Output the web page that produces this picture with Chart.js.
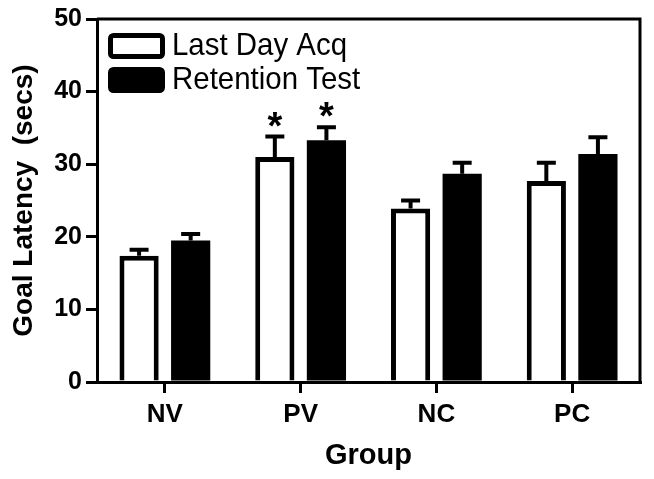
<!DOCTYPE html>
<html>
<head>
<meta charset="utf-8">
<script src="https://cdn.jsdelivr.net/npm/chart.js@4"></script>
<style>
  html, body { margin: 0; padding: 0; background: #fff; }
  #wrap { width: 654px; height: 479px; }
</style>
</head>
<body>
<div id="wrap"><canvas id="latency-chart" width="654" height="479"></canvas></div>
<script>
// 組別與數值
const groups = ['NV', 'PV', 'NC', 'PC'];
const lastDayAcq = [17.4, 31.0, 23.9, 27.7];
const lastDayAcqErr = [0.8, 2.8, 1.1, 2.5];
const retentionTest = [19.5, 33.3, 28.7, 31.4];
const retentionTestErr = [0.9, 1.8, 1.5, 2.3];
const lastDayAcqSig = ['', '*', '', ''];
const retentionTestSig = ['', '*', '', ''];
const yTicks = [0, 10, 20, 30, 40, 50];

const errors = [lastDayAcqErr, retentionTestErr];
const marks = [lastDayAcqSig, retentionTestSig];
const FONT = 'Arial, "Liberation Sans", sans-serif';

// 誤差線與星號
const errorBarPlugin = {
    id: 'errorBars',
    afterDatasetsDraw(chart) {
        const ctx = chart.ctx;
        const yScale = chart.scales.y;
        ctx.save();
        chart.data.datasets.forEach((ds, i) => {
            const meta = chart.getDatasetMeta(i);
            meta.data.forEach((bar, j) => {
                const top = yScale.getPixelForValue(ds.data[j] + errors[i][j]);
                ctx.strokeStyle = '#000';
                ctx.lineWidth = 4;
                ctx.beginPath();
                ctx.moveTo(bar.x, bar.y);
                ctx.lineTo(bar.x, top);
                ctx.moveTo(bar.x - 9.5, top);
                ctx.lineTo(bar.x + 9.5, top);
                ctx.stroke();
                if (marks[i][j]) {
                    ctx.fillStyle = '#000';
                    ctx.font = 'bold 38px ' + FONT;
                    ctx.textAlign = 'center';
                    ctx.textBaseline = 'alphabetic';
                    ctx.fillText(marks[i][j], bar.x, top + 2);
                }
            });
        });
        ctx.restore();
    }
};

// 外框與圖例
const framePlugin = {
    id: 'frameLegend',
    afterDraw(chart) {
        const ctx = chart.ctx;
        const area = chart.chartArea;
        ctx.save();
        ctx.strokeStyle = '#000';
        ctx.lineWidth = 3;
        ctx.beginPath();
        ctx.moveTo(area.left, area.top);
        ctx.lineTo(area.right, area.top);
        ctx.lineTo(area.right, area.bottom);
        ctx.stroke();

        chart.data.datasets.forEach((ds, i) => {
            const bx = area.left + 11;
            const by = area.top + 14 + i * 34;
            ctx.fillStyle = ds.backgroundColor;
            ctx.strokeStyle = '#000';
            ctx.lineWidth = 5;
            ctx.beginPath();
            ctx.roundRect(bx + 2.5, by + 2.5, 52, 21, 3);
            ctx.fill();
            ctx.stroke();
            ctx.fillStyle = '#000';
            ctx.font = '32px ' + FONT;
            ctx.textAlign = 'left';
            ctx.textBaseline = 'middle';
            const w = ctx.measureText(ds.label).width;
            ctx.fillText(ds.label, bx + 64, by + 13, w * 0.92);
        });
        ctx.restore();
    }
};

function initChart() {
    const ctx = document.getElementById('latency-chart').getContext('2d');
    new Chart(ctx, {
        type: 'bar',
        data: {
            labels: groups,
            datasets: [
                {
                    label: 'Last Day Acq',
                    data: lastDayAcq,
                    backgroundColor: '#ffffff',
                    borderColor: '#000000',
                    borderWidth: 5
                },
                {
                    label: 'Retention Test',
                    data: retentionTest,
                    backgroundColor: '#000000',
                    borderColor: '#000000',
                    borderWidth: 0
                }
            ]
        },
        options: {
            responsive: false,
            animation: false,
            categoryPercentage: 0.76,
            barPercentage: 0.76,
            layout: { padding: { top: 6, right: 14, left: 4, bottom: 4 } },
            plugins: {
                legend: { display: false },
                tooltip: { enabled: false }
            },
            scales: {
                x: {
                    afterFit: (scale) => { scale.height = 93; },
                    grid: {
                        display: true,
                        drawOnChartArea: false,
                        offset: false,
                        tickLength: 11,
                        lineWidth: 3,
                        color: '#000'
                    },
                    border: { display: true, width: 3, color: '#000' },
                    ticks: {
                        color: '#000',
                        padding: 6,
                        font: { family: FONT, size: 26, weight: 'bold' }
                    },
                    title: {
                        display: true,
                        text: 'Group',
                        color: '#000',
                        padding: { top: 0, bottom: 2 },
                        font: { family: FONT, size: 29, weight: 'bold' }
                    }
                },
                y: {
                    min: yTicks[0],
                    max: yTicks[yTicks.length - 1],
                    afterFit: (scale) => { scale.width = 93; },
                    afterBuildTicks: (scale) => { scale.ticks = yTicks.map(v => ({ value: v })); },
                    grid: {
                        display: true,
                        drawOnChartArea: false,
                        tickLength: 11,
                        lineWidth: 3,
                        color: '#000'
                    },
                    border: { display: true, width: 3, color: '#000' },
                    ticks: {
                        color: '#000',
                        padding: 4,
                        font: { family: FONT, size: 25, weight: 'bold' }
                    },
                    title: {
                        display: true,
                        text: 'Goal Latency  (secs)',
                        color: '#000',
                        padding: { top: 3, bottom: 0 },
                        font: { family: FONT, size: 28, weight: 'bold' }
                    }
                }
            }
        },
        plugins: [errorBarPlugin, framePlugin]
    });
}

document.addEventListener('DOMContentLoaded', () => {
    initChart();
});
</script>
</body>
</html>
